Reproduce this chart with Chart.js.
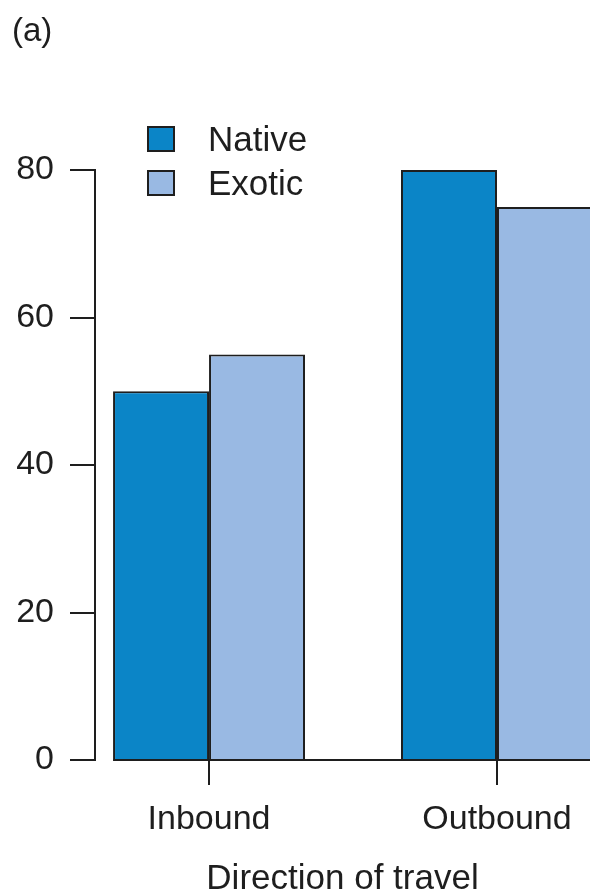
<!DOCTYPE html>
<html>
<head>
<meta charset="utf-8">
<title>Direction of travel</title>
<script src="https://cdn.jsdelivr.net/npm/chart.js@4.4.1/dist/chart.umd.min.js"></script>
<style>
  html, body { margin: 0; padding: 0; background: #fff; overflow: hidden; }
  #wrap { position: relative; width: 590px; height: 895px; }
</style>
</head>
<body>
<div id="wrap"><canvas id="chart"></canvas></div>
<script>
// Percent of trips by direction, native vs exotic
const categories   = ['Inbound', 'Outbound'];
const nativeValues = [50, 80];
const exoticValues = [55, 75];
const yTicks       = [0, 20, 40, 60, 80];
const panelLabel   = '(a)';

(function () {
  'use strict';

  const ink   = '#1e1e1e';
  const font  = '"Liberation Sans", Arial, Helvetica, sans-serif';
  const colors = { native: '#0b85c7', exotic: '#99b9e3' };

  // bars sit on a numeric x axis so the category slots can start right of the y axis
  const toPoints = vals => vals.map((v, i) => ({ x: i + 1, y: v }));

  // ── Plugins ──────────────────────────────────────

  // baseline from the first bar edge to the last
  const baseline = {
    id: 'baseline',
    afterDatasetsDraw(chart) {
      const first = chart.getDatasetMeta(0).data[0];
      const lastMeta = chart.getDatasetMeta(chart.data.datasets.length - 1);
      const last = lastMeta.data[lastMeta.data.length - 1];
      const y = chart.scales.y.getPixelForValue(0);
      const ctx = chart.ctx;
      ctx.save();
      ctx.strokeStyle = ink;
      ctx.lineWidth = 2;
      ctx.beginPath();
      ctx.moveTo(first.x - first.width / 2, y);
      ctx.lineTo(last.x + last.width / 2, y);
      ctx.stroke();
      ctx.restore();
    }
  };

  // panel tag and boxed legend in the top-left corner
  const annotations = {
    id: 'annotations',
    afterDraw(chart) {
      const ctx = chart.ctx;
      ctx.save();
      ctx.fillStyle = ink;
      ctx.textBaseline = 'middle';
      ctx.textAlign = 'left';
      ctx.font = `33px ${font}`;
      ctx.fillText(panelLabel, 12, 32);

      ctx.font = `35px ${font}`;
      chart.data.datasets.forEach((ds, i) => {
        const top = 127 + i * 44;
        ctx.fillStyle = ds.backgroundColor;
        ctx.fillRect(148, top, 26, 24);
        ctx.strokeStyle = ink;
        ctx.lineWidth = 2;
        ctx.strokeRect(148, top, 26, 24);
        ctx.fillStyle = ink;
        ctx.fillText(ds.label, 208, top + 14);
      });
      ctx.restore();
    }
  };

  // ── Chart ────────────────────────────────────────

  new Chart(document.getElementById('chart'), {
    type: 'bar',
    data: {
      datasets: [
        {
          label: 'Native',
          data: toPoints(nativeValues),
          backgroundColor: colors.native,
          borderColor: ink,
          borderWidth: 2
        },
        {
          label: 'Exotic',
          data: toPoints(exoticValues),
          backgroundColor: colors.exotic,
          borderColor: ink,
          borderWidth: 2
        }
      ]
    },
    options: {
      responsive: true,
      maintainAspectRatio: false,
      animation: false,
      categoryPercentage: 2 / 3,
      barPercentage: 1,
      layout: { padding: { top: 170, left: 0, right: 0, bottom: 0 } },
      plugins: {
        legend: { display: false },
        title: { display: false },
        tooltip: { enabled: false }
      },
      scales: {
        x: {
          type: 'linear',
          offset: false,
          min: 0.604,
          max: 2.323,
          afterBuildTicks: scale => {
            scale.ticks = categories.map((_, i) => ({ value: i + 1 }));
          },
          afterFit: scale => { scale.height = 135; },
          border: { display: false },
          grid: {
            offset: false,
            drawOnChartArea: false,
            drawTicks: true,
            tickLength: 25,
            color: ink,
            lineWidth: 2
          },
          ticks: {
            color: ink,
            font: { family: font, size: 34 },
            padding: 14,
            maxRotation: 0,
            autoSkip: false,
            callback: v => categories[v - 1] ?? ''
          },
          title: {
            display: true,
            text: 'Direction of travel',
            color: ink,
            font: { family: font, size: 35 },
            padding: { top: 0, bottom: -5 }
          }
        },
        y: {
          min: 0,
          max: 80,
          afterBuildTicks: scale => {
            scale.ticks = yTicks.map(v => ({ value: v }));
          },
          afterFit: scale => { scale.width = 95; },
          border: { display: true, color: ink, width: 2 },
          grid: {
            drawOnChartArea: false,
            drawTicks: true,
            tickLength: 25,
            color: ink,
            lineWidth: 2
          },
          ticks: {
            color: ink,
            font: { family: font, size: 34 },
            padding: 16
          }
        }
      }
    },
    plugins: [baseline, annotations]
  });
})();
</script>
</body>
</html>
